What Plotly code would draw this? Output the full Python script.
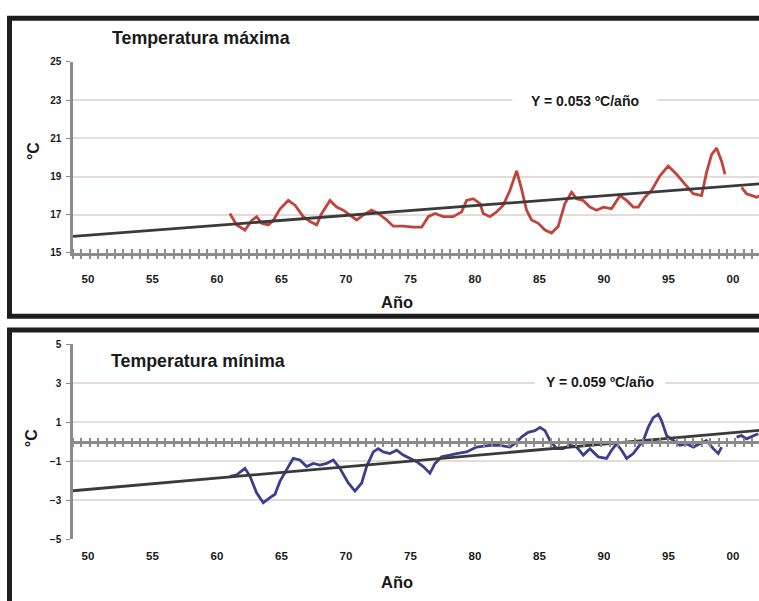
import plotly.graph_objects as go

W, H = 759, 601
FONT = "Liberation Sans, Arial, Helvetica, sans-serif"

# ---------------- data ----------------
years_max = [1961.0, 1961.53, 1962.17, 1962.69, 1963.08, 1963.47, 1963.98, 1964.36, 1964.88, 1965.53,
             1966.05, 1966.69, 1967.21, 1967.73, 1968.12, 1968.76, 1969.28, 1969.79, 1970.31, 1970.83,
             1971.34, 1971.98, 1972.50, 1973.15, 1973.67, 1974.44, 1975.22, 1975.87, 1976.38, 1976.90,
             1977.54, 1978.31, 1978.97, 1979.35, 1979.87, 1980.39, 1980.64, 1981.16, 1981.68, 1982.19,
             1982.71, 1983.23, 1983.61, 1984.00, 1984.39, 1984.91, 1985.43, 1985.94, 1986.45, 1986.97,
             1987.49, 1987.88, 1988.39, 1988.91, 1989.43, 1989.95, 1990.59, 1991.24, 1991.76, 1992.27,
             1992.66, 1993.18, 1993.69, 1994.34, 1994.98, 1995.63, 1996.28, 1996.92, 1997.57, 1997.95,
             1998.34, 1998.73, 1999.12, 1999.38, 2000.0, 2000.67, 2001.05, 2001.83, 2002.09]
tmax = [17.07, 16.47, 16.20, 16.70, 16.90, 16.55, 16.47, 16.70, 17.30, 17.75,
        17.50, 16.90, 16.64, 16.47, 17.07, 17.75, 17.40, 17.24, 16.98, 16.73,
        16.98, 17.24, 17.07, 16.73, 16.40, 16.40, 16.35, 16.35, 16.90, 17.07,
        16.90, 16.90, 17.15, 17.75, 17.84, 17.58, 17.07, 16.90, 17.15, 17.50,
        18.27, 19.29, 18.35, 17.24, 16.73, 16.55, 16.20, 16.04, 16.38, 17.58,
        18.18, 17.84, 17.75, 17.40, 17.24, 17.40, 17.32, 18.00, 17.75, 17.40,
        17.40, 17.92, 18.27, 19.04, 19.55, 19.12, 18.60, 18.10, 18.00, 19.20,
        20.14, 20.49, 19.80, 19.12, None, 18.43, 18.10, 17.92, 18.00]

years_min = [1961.01, 1961.53, 1962.17, 1962.56, 1963.07, 1963.59, 1964.11, 1964.50, 1964.88, 1965.40,
             1965.91, 1966.43, 1966.95, 1967.47, 1967.98, 1968.50, 1969.02, 1969.53, 1970.18, 1970.70,
             1971.22, 1971.60, 1972.12, 1972.50, 1972.89, 1973.41, 1973.93, 1974.44, 1974.96, 1975.48,
             1975.99, 1976.51, 1976.90, 1977.41, 1978.06, 1978.57, 1979.35, 1980.12, 1981.16, 1981.94,
             1982.71, 1983.23, 1983.61, 1984.12, 1984.65, 1985.04, 1985.43, 1985.81, 1986.33, 1986.84,
             1987.36, 1987.88, 1988.40, 1988.91, 1989.56, 1990.20, 1990.59, 1990.98, 1991.37, 1991.76,
             1992.27, 1992.66, 1993.05, 1993.43, 1993.82, 1994.21, 1994.47, 1994.86, 1995.37, 1995.89,
             1996.41, 1996.92, 1997.44, 1997.95, 1998.47, 1998.86, 1999.12, 1999.7, 2000.28, 2000.67,
             2001.05, 2001.57, 2001.96]
tmin = [-1.78, -1.70, -1.37, -1.78, -2.62, -3.13, -2.87, -2.70, -2.04, -1.45,
        -0.86, -0.94, -1.28, -1.12, -1.20, -1.12, -0.94, -1.37, -2.12, -2.54,
        -2.12, -1.28, -0.53, -0.36, -0.53, -0.61, -0.44, -0.69, -0.86, -1.03,
        -1.28, -1.62, -1.12, -0.78, -0.69, -0.61, -0.53, -0.28, -0.19, -0.19,
        -0.28, -0.03, 0.23, 0.48, 0.56, 0.73, 0.56, 0.06, -0.36, -0.36,
        -0.19, -0.28, -0.69, -0.36, -0.78, -0.86, -0.44, -0.11, -0.44, -0.86,
        -0.61, -0.28, 0.06, 0.73, 1.23, 1.40, 1.07, 0.31, 0.06, -0.19,
        -0.11, -0.28, -0.11, 0.06, -0.36, -0.61, -0.28, None, 0.23, 0.31,
        0.14, 0.31, 0.40]

trend_years = [1948.84, 2002.1]
trend_max = [15.87, 18.62]
trend_min = [-2.52, 0.58]

tick_years = [1950, 1955, 1960, 1965, 1970, 1975, 1980, 1985, 1990, 1995, 2000]
tick_labels = ["50", "55", "60", "65", "70", "75", "80", "85", "90", "95", "00"]
ytick_max = [15, 17, 19, 21, 23, 25]
ytick_min = [-5, -3, -1, 1, 3, 5]

# ---------------- layout helpers ----------------
def px_x(x):
    return x / W

def px_y(y):
    return 1 - y / H

XRANGE = [1948.84, 2002.02]
AXIS_GRAY = "#8e8a8a"
GRID = "#e4dcd9"
TXT = "#1a1a1a"

fig = go.Figure()

fig.add_trace(go.Scatter(x=years_max, y=tmax, mode="lines", xaxis="x", yaxis="y",
                         line=dict(color="#c0443c", width=2.8), connectgaps=False,
                         showlegend=False, hoverinfo="skip"))
fig.add_trace(go.Scatter(x=trend_years, y=trend_max, mode="lines", xaxis="x4", yaxis="y",
                         line=dict(color="#3a3a3a", width=2.8), showlegend=False, hoverinfo="skip"))

fig.add_trace(go.Scatter(x=years_min, y=tmin, mode="lines", xaxis="x2", yaxis="y2",
                         line=dict(color="#3b3f8c", width=2.8), connectgaps=False,
                         showlegend=False, hoverinfo="skip"))
fig.add_trace(go.Scatter(x=trend_years, y=trend_min, mode="lines", xaxis="x3", yaxis="y2",
                         line=dict(color="#3a3a3a", width=2.8), showlegend=False, hoverinfo="skip"))
# empty trace that just registers the axis carrying the upward half of the zero-line ticks
fig.add_trace(go.Scatter(x=[], y=[], mode="lines", xaxis="x5", yaxis="y2",
                         showlegend=False, hoverinfo="skip"))

tickfont_x = dict(family=FONT, size=11.5, color=TXT, weight="bold")
tickfont_y = dict(family=FONT, size=10, color=TXT, weight="bold")


def minor(side):
    return dict(tickmode="linear", tick0=1948.84, dtick=0.65, ticks=side,
                ticklen=3.5, tickwidth=1.5, tickcolor=AXIS_GRAY, showgrid=False)


dom_x = [px_x(73), 1]
dom_top = [px_y(252), px_y(57)]
dom_bot = [px_y(544), px_y(345)]
zero_pos = dom_bot[0] + (dom_bot[1] - dom_bot[0]) * 0.5

fig.update_layout(
    width=W, height=H,
    margin=dict(l=0, r=0, t=0, b=0),
    paper_bgcolor="white", plot_bgcolor="white",
    xaxis=dict(domain=dom_x, range=XRANGE, anchor="y", tickmode="array",
               tickvals=tick_years, ticktext=tick_labels, ticks="", tickfont=tickfont_x,
               ticklabelstandoff=13, showline=True, linecolor=AXIS_GRAY, linewidth=2.5,
               showgrid=False, zeroline=False, minor=minor("outside"), fixedrange=True),
    xaxis4=dict(domain=dom_x, range=XRANGE, overlaying="x", anchor="y", showticklabels=False,
                ticks="", showline=False, showgrid=False, zeroline=False,
                minor=minor("inside"), fixedrange=True),
    yaxis=dict(domain=dom_top, range=[15, 25], anchor="x", tickmode="array", tickvals=ytick_max,
               ticks="outside", ticklen=4, tickcolor=AXIS_GRAY, tickfont=tickfont_y,
               ticklabelstandoff=3, showline=True, linecolor=AXIS_GRAY, linewidth=2.5,
               showgrid=True, gridcolor=GRID, gridwidth=2, zeroline=False, fixedrange=True),
    xaxis2=dict(domain=dom_x, range=XRANGE, anchor="y2", tickmode="array",
                tickvals=tick_years, ticktext=tick_labels, ticks="", tickfont=tickfont_x,
                ticklabelstandoff=8, showline=False, showgrid=False, zeroline=False,
                fixedrange=True),
    xaxis3=dict(domain=dom_x, range=XRANGE, overlaying="x2", anchor="free", position=zero_pos,
                showticklabels=False, ticks="", showline=True, linecolor=AXIS_GRAY,
                linewidth=2.5, showgrid=False, zeroline=False, minor=minor("outside"),
                fixedrange=True),
    xaxis5=dict(domain=dom_x, range=XRANGE, overlaying="x2", anchor="free", position=zero_pos,
                showticklabels=False, ticks="", showline=False, showgrid=False,
                zeroline=False, minor=minor("inside"), fixedrange=True),
    yaxis2=dict(domain=dom_bot, range=[-5, 5], anchor="x2", tickmode="array", tickvals=ytick_min,
                ticks="outside", ticklen=4, tickcolor=AXIS_GRAY, tickfont=tickfont_y,
                ticklabelstandoff=3, showline=True, linecolor=AXIS_GRAY, linewidth=2.5,
                showgrid=True, gridcolor=GRID, gridwidth=2, zeroline=False, fixedrange=True),
)

# frames
FRAME = "#1e1e1e"
fig.add_shape(type="rect", xref="paper", yref="paper",
              x0=px_x(9.5), x1=1.05, y0=px_y(316.5), y1=px_y(12.5),
              line=dict(color=FRAME, width=5), fillcolor="rgba(0,0,0,0)", layer="above")
fig.add_shape(type="rect", xref="paper", yref="paper",
              x0=px_x(9.5), x1=1.05, y0=-0.05, y1=px_y(330.5),
              line=dict(color=FRAME, width=5), fillcolor="rgba(0,0,0,0)", layer="above")

def ann(text, x, y, size, **kw):
    fig.add_annotation(text=text, x=px_x(x), y=px_y(y), xref="paper", yref="paper",
                       showarrow=False, xanchor="center", yanchor="middle",
                       font=dict(family=FONT, size=size, color=TXT, weight="bold"), **kw)

ann("Temperatura máxima", 201, 33, 17.8)
ann("Temperatura mínima", 198, 362, 17.8)
ann("Y = 0.053 ºC/año", 585, 96, 14, bgcolor="white", width=142, height=17)
ann("Y = 0.059 ºC/año", 600, 383, 14, bgcolor="white", width=128, height=17)
ann("Año", 397, 302, 16.5)
ann("Año", 397, 588, 16.5)
ann("°C", 33, 148, 16, textangle=-90)
ann("°C", 31, 441, 16, textangle=-90)

fig.write_html("out.html", config={"displayModeBar": False},
               post_script="document.body.style.margin='0';document.body.style.overflow='hidden';")
